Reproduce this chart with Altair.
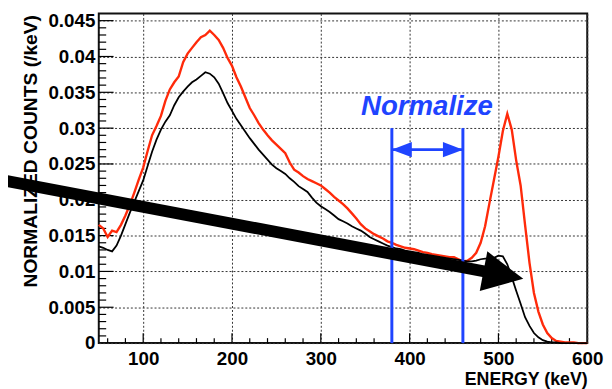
import altair as alt
import pandas as pd

# ---------------- data ----------------
energy = list(range(50, 601, 5))

black_counts = [
    0.0135, 0.0133, 0.0130, 0.0128, 0.0136, 0.0150, 0.0166, 0.0182, 0.0197, 0.0212,
    0.0227, 0.0247, 0.0267, 0.0284, 0.0298, 0.0309, 0.0318, 0.0332, 0.0343, 0.0351,
    0.0358, 0.0364, 0.0368, 0.0373, 0.0378, 0.0376, 0.0371, 0.0362, 0.0349, 0.0335,
    0.0324, 0.0313, 0.0304, 0.0295, 0.0286, 0.0278, 0.0270, 0.0263, 0.0256, 0.0249,
    0.0244, 0.0240, 0.0236, 0.0230, 0.0225, 0.0219, 0.0215, 0.0211, 0.0203, 0.0196,
    0.0191, 0.0187, 0.0183, 0.0178, 0.0173, 0.0170, 0.0167, 0.0163, 0.0160, 0.0157,
    0.0153, 0.0148, 0.0145, 0.0142, 0.0139, 0.0136, 0.0134, 0.0132, 0.0131, 0.0129,
    0.0128, 0.0127, 0.0126, 0.0124, 0.0123, 0.0122, 0.0121, 0.0120, 0.0119, 0.0118,
    0.0117, 0.0116, 0.0115, 0.0114, 0.0114, 0.0115, 0.0117, 0.0118, 0.0118, 0.0119,
    0.0122, 0.0121, 0.0110, 0.0092, 0.0073, 0.0055, 0.0036, 0.0024, 0.0014, 0.0008,
    0.0004, 0.0002, 0.0001, 0.0001, 0.0, 0.0, 0.0, 0.0, 0.0, 0.0,
    0.0,
]

red_counts = [
    0.0165, 0.0160, 0.0148, 0.0157, 0.0155, 0.0165, 0.0178, 0.0193, 0.0210, 0.0228,
    0.0245, 0.0268, 0.0290, 0.0303, 0.0317, 0.0338, 0.0354, 0.0364, 0.0372, 0.0392,
    0.0404, 0.0412, 0.0420, 0.0427, 0.0430, 0.0436, 0.0430, 0.0423, 0.0412, 0.0398,
    0.0387, 0.0371, 0.0358, 0.0343, 0.0328, 0.0318, 0.0307, 0.0298, 0.0290, 0.0283,
    0.0277, 0.0271, 0.0265, 0.0252, 0.0242, 0.0238, 0.0233, 0.0229, 0.0226, 0.0223,
    0.0220, 0.0215, 0.0210, 0.0204, 0.0199, 0.0194, 0.0188, 0.0181, 0.0174, 0.0166,
    0.0160, 0.0156, 0.0152, 0.0149, 0.0146, 0.0142, 0.0140, 0.0137, 0.0135, 0.0133,
    0.0132, 0.0131, 0.0129, 0.0127, 0.0126, 0.0124, 0.0123, 0.0122, 0.0121, 0.0120,
    0.0120, 0.0117, 0.0114, 0.0115, 0.0119, 0.0126, 0.0140, 0.0163, 0.0196, 0.0228,
    0.0260, 0.0296, 0.0320, 0.0298, 0.0255, 0.0220, 0.0165, 0.0112, 0.0070, 0.0044,
    0.0026, 0.0014, 0.0007, 0.0003, 0.0002, 0.0001, 0.0001, 0.0001, 0.0, 0.0,
    0.0,
]

x_label_values = [100, 200, 300, 400, 500, 600]
x_minor_ticks = [v for v in range(60, 600, 20) if v % 100 != 0]
y_label_values = [0, 0.005, 0.01, 0.015, 0.02, 0.025, 0.03, 0.035, 0.04, 0.045]
y_minor_ticks = [round(i * 0.001, 3) for i in range(1, 46) if i % 5 != 0]

# annotation positions (data coordinates)
norm_lines_x = [380, 460]
norm_top = 0.0300
norm_arrow_y = 0.0270
norm_heads_x = [391.1, 448.9]
norm_heads_angle = [180, 0]
norm_text = "Normalize"
norm_text_x = 419.5
norm_text_y = 0.0318
big_arrow_x = [-61.0, 505.6]
big_arrow_y = [0.0228, 0.0095]
big_head_angle = 10.8

RED = "#ff2a0a"
BLUE = "#1f44ff"
FONT = "Liberation Sans"
W, H = 495, 334

df = pd.DataFrame({"e": energy, "black": black_counts, "red": red_counts})

xs = alt.Scale(domain=[50, 600], nice=False, zero=False)
ys = alt.Scale(domain=[0, 0.046], nice=False, zero=False)

x_axis = alt.Axis(
    values=x_label_values, format="d", grid=True, gridDash=[2, 2], gridColor="#333",
    gridWidth=1, ticks=False, domain=False, labelFont=FONT, labelFontWeight="bold",
    labelFontSize=19, labelColor="black", labelPadding=7, labelFlush=False,
    labelOverlap=False, title="ENERGY (keV)", titleFont=FONT, titleFontWeight="bold",
    titleFontSize=18, titleColor="black", titleAlign="right", titleAnchor="end",
    titleX=W, titleY=42, titleBaseline="alphabetic",
)
y_axis = alt.Axis(
    values=y_label_values, format="~g", grid=True, gridDash=[2, 2], gridColor="#333",
    gridWidth=1, ticks=False, domain=False, labelFont=FONT, labelFontWeight="bold",
    labelFontSize=19, labelColor="black", labelPadding=4, labelFlush=False,
    labelOverlap=False, title="NORMALIZED COUNTS (/keV)", titleFont=FONT,
    titleFontWeight="bold", titleFontSize=19.5, titleColor="black", titleAngle=270,
    titleAlign="right", titleBaseline="alphabetic", titleX=-63, titleY=1,
)


def X(f):
    return alt.X(f, type="quantitative", scale=xs, axis=x_axis)


def Y(f):
    return alt.Y(f, type="quantitative", scale=ys, axis=y_axis)


base = alt.Chart(df)
red_line = base.mark_line(color=RED, strokeWidth=2.4, interpolate="linear").encode(x=X("e"), y=Y("red"))
black_line = base.mark_line(color="black", strokeWidth=1.8, interpolate="linear").encode(x=X("e"), y=Y("black"))

vlines = alt.Chart(pd.DataFrame({"x": norm_lines_x, "y0": [0.0] * 2, "y1": [norm_top] * 2})).mark_rule(
    color=BLUE, strokeWidth=3).encode(x=X("x"), y=Y("y0"), y2="y1")
hline = alt.Chart(pd.DataFrame({"x0": [norm_lines_x[0]], "x1": [norm_lines_x[1]], "y": [norm_arrow_y]})).mark_rule(
    color=BLUE, strokeWidth=3).encode(x=X("x0"), x2="x1", y=Y("y"))
heads = alt.Chart(pd.DataFrame({"x": norm_heads_x, "y": [norm_arrow_y] * 2, "a": norm_heads_angle})).mark_point(
    shape="M-1,-0.75L1,0L-1,0.75Z", filled=True, size=420, color=BLUE, opacity=1, strokeWidth=0
).encode(x=X("x"), y=Y("y"), angle=alt.Angle("a:Q", scale=None))
label = alt.Chart(pd.DataFrame({"x": [norm_text_x], "y": [norm_text_y], "t": [norm_text]})).mark_text(
    font=FONT, fontSize=28, fontWeight="bold", fontStyle="italic", color=BLUE,
    align="center", baseline="alphabetic").encode(x=X("x"), y=Y("y"), text="t:N")

big_shaft = alt.Chart(pd.DataFrame({"x0": [big_arrow_x[0]], "x1": [big_arrow_x[1]],
                                    "y0": [big_arrow_y[0]], "y1": [big_arrow_y[1]]})).mark_rule(
    color="black", strokeWidth=12, strokeCap="butt").encode(x=X("x0"), x2="x1", y=Y("y0"), y2="y1")
big_head = alt.Chart(pd.DataFrame({"x": [big_arrow_x[1]], "y": [big_arrow_y[1]]})).mark_point(
    shape="M-1,-1L1,0L-1,1Z", filled=True, size=1681, color="black", opacity=1, strokeWidth=0,
    angle=big_head_angle).encode(x=X("x"), y=Y("y"))

xt_major = alt.Chart(pd.DataFrame({"v": x_label_values[:-1]})).mark_rule(color="black", strokeWidth=1.2).encode(
    x=X("v"), y=alt.value(H), y2=alt.value(H - 10))
xt_minor = alt.Chart(pd.DataFrame({"v": x_minor_ticks})).mark_rule(color="black", strokeWidth=1.2).encode(
    x=X("v"), y=alt.value(H), y2=alt.value(H - 5))
yt_major = alt.Chart(pd.DataFrame({"v": y_label_values[1:]})).mark_rule(color="black", strokeWidth=1.2).encode(
    y=Y("v"), x=alt.value(0), x2=alt.value(15))
yt_minor = alt.Chart(pd.DataFrame({"v": y_minor_ticks})).mark_rule(color="black", strokeWidth=1.2).encode(
    y=Y("v"), x=alt.value(0), x2=alt.value(7.5))

chart = alt.layer(
    xt_major, xt_minor, yt_major, yt_minor,
    red_line, black_line, vlines, hline, heads, label, big_shaft, big_head,
).properties(
    width=W, height=H,
    autosize=alt.AutoSizeParams(type="none"),
    padding={"left": 92, "top": 3, "right": 17, "bottom": 46},
    background="white",
).configure_view(stroke="#111", strokeWidth=2)

chart.save("out.html", embed_options={"renderer": "svg", "actions": False})
